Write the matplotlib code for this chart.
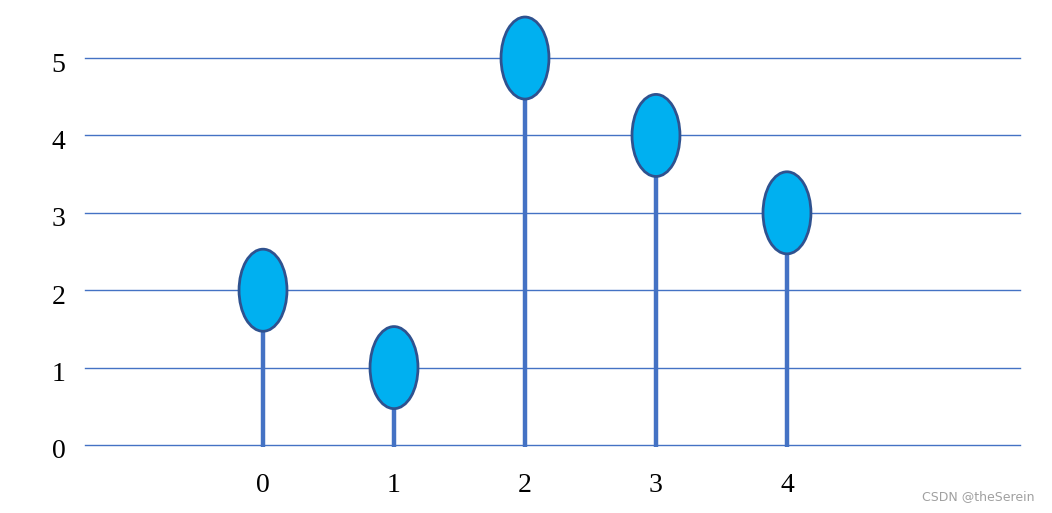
import matplotlib
matplotlib.use("Agg")
import matplotlib.pyplot as plt
import matplotlib.transforms as mtransforms
from matplotlib.patches import Ellipse

categories = [0, 1, 2, 3, 4]
values = [2, 1, 5, 4, 3]
yticks = [0, 1, 2, 3, 4, 5]

fig = plt.figure(figsize=(10.52, 5.13), dpi=100)
W, H = 1052, 513
ax = fig.add_axes([85 / W, 68 / H, (1020 - 85) / W, 445 / H])
ax.set_xlim(-1.359, 5.779)
ax.set_ylim(0, 5.75)

for s in ax.spines.values():
    s.set_visible(False)

for y in yticks:
    ax.axhline(y, color="#4472C4", lw=1.0, zorder=1, clip_on=False)

ax.vlines(categories, -0.03, values, color="#4472C4", lw=3.2, zorder=2, clip_on=False)
for x, v in zip(categories, values):
    e = Ellipse((x, v), width=0.366, height=1.06, facecolor="#00B0F0",
                edgecolor="#2F528F", lw=2.0, zorder=3, clip_on=False)
    ax.add_patch(e)

ax.set_xticks(categories)
ax.set_xticklabels([str(c) for c in categories])
ax.set_yticks(yticks)
ax.set_yticklabels([str(y) for y in yticks])
ax.tick_params(length=0, labelsize=20)
ax.tick_params(axis="y", pad=14)
ax.tick_params(axis="x", pad=20)
for lab in ax.get_xticklabels() + ax.get_yticklabels():
    lab.set_fontfamily("Liberation Serif")

offset = mtransforms.ScaledTranslation(0, -4 / 100, fig.dpi_scale_trans)
for lab in ax.get_yticklabels():
    lab.set_transform(lab.get_transform() + offset)

fig.text(1035 / W, 1 - 497 / H, "CSDN @theSerein", ha="right", va="center",
         fontsize=9, color="#A0A0A0", family="DejaVu Sans")

fig.savefig("out.png", dpi=100)
